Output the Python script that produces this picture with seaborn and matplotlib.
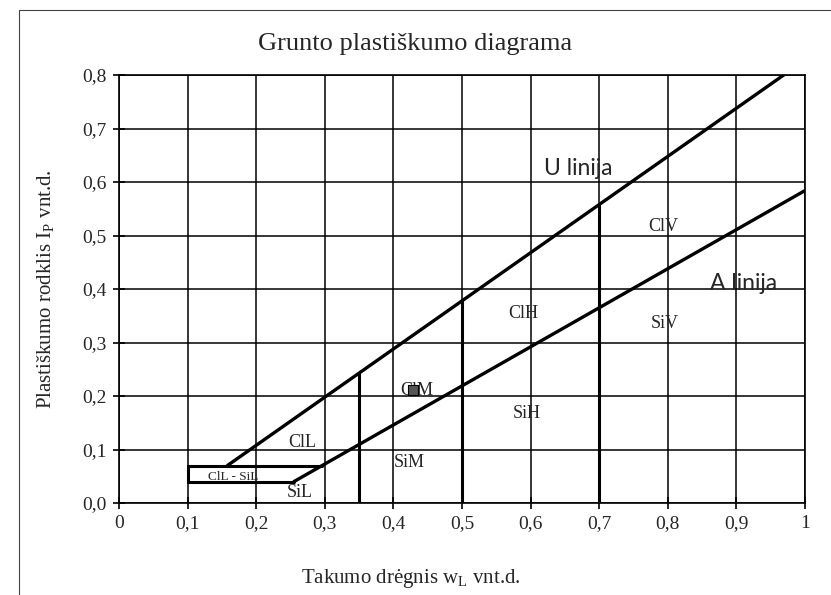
import matplotlib
matplotlib.use("Agg")
import matplotlib.pyplot as plt
from matplotlib.patches import Rectangle
import numpy as np
import pandas as pd
import seaborn as sns

# Plasticity chart (Casagrande): liquid limit vs plasticity index
u_line_wl = [0.158, 0.969]
u_line_ip = [0.07, 0.80]
a_line_wl = [0.255, 1.00]
a_line_ip = [0.04, 0.584]

# zone boundaries: (wL start, wL end, Ip start, Ip end)
boundary_wl = [[0.10, 0.296], [0.10, 0.255], [0.10, 0.10],
               [0.35, 0.35], [0.50, 0.50], [0.70, 0.70]]
boundary_ip = [[0.07, 0.07], [0.04, 0.04], [0.04, 0.07],
               [0.00, 0.243], [0.00, 0.378], [0.00, 0.558]]

zone_names = ["ClL", "SiL", "SiM", "SiH", "SiV", "ClH", "ClM", "ClV"]
zone_wl = [0.267, 0.264, 0.423, 0.595, 0.795, 0.590, 0.434, 0.794]
zone_ip = [0.114, 0.019, 0.075, 0.168, 0.336, 0.355, 0.211, 0.516]

sample_wl = [0.428]
sample_ip = [0.211]

x_ticks = [0, 0.1, 0.2, 0.3, 0.4, 0.5, 0.6, 0.7, 0.8, 0.9, 1.0]
x_tick_labels = ["0", "0,1", "0,2", "0,3", "0,4", "0,5", "0,6", "0,7", "0,8", "0,9", "1"]
y_ticks = [0, 0.1, 0.2, 0.3, 0.4, 0.5, 0.6, 0.7, 0.8]
y_tick_labels = ["0,0", "0,1", "0,2", "0,3", "0,4", "0,5", "0,6", "0,7", "0,8"]

sns.set_theme(style="white")
plt.rcParams["font.family"] = ["Liberation Serif", "DejaVu Serif"]
plt.rcParams["mathtext.fontset"] = "custom"
plt.rcParams["mathtext.rm"] = "Liberation Serif"

fig = plt.figure(figsize=(8.31, 5.95), dpi=100)
ax = fig.add_axes([119 / 831, 1 - 503 / 595, 686 / 831, 428 / 595])

# outer frame of the figure
fig.patches.append(Rectangle((19 / 831, -0.2), 1.2, 0.2 + 1 - 10 / 595,
                             transform=fig.transFigure, fill=False,
                             edgecolor="#444444", linewidth=0.8))

# zone boundaries
rows = []
for i, (ws, ips) in enumerate(zip(boundary_wl, boundary_ip)):
    for w, p in zip(ws, ips):
        rows.append({"seg": i, "wl": w, "ip": p})
bdf = pd.DataFrame(rows)
sns.lineplot(data=bdf, x="wl", y="ip", units="seg", estimator=None, sort=False,
             color="black", linewidth=2.2, ax=ax, zorder=4)

# U and A lines
sns.lineplot(x=u_line_wl, y=u_line_ip, sort=False, color="black",
             linewidth=2.4, ax=ax, zorder=4)
sns.lineplot(x=a_line_wl, y=a_line_ip, sort=False, color="black",
             linewidth=2.4, ax=ax, zorder=4)

# tested sample
sns.scatterplot(x=sample_wl, y=sample_ip, marker="s", s=45, color="#555555",
                edgecolor="black", linewidth=0.8, ax=ax, zorder=6)

ax.set_xlim(0, 1)
ax.set_ylim(0, 0.8)
ax.set_xticks(x_ticks)
ax.set_xticklabels(x_tick_labels, fontsize=14)
ax.set_yticks(y_ticks)
ax.set_yticklabels(y_tick_labels, fontsize=14)
ax.grid(True, color="black", linewidth=1.1)
ax.set_axisbelow(True)
for s in ax.spines.values():
    s.set_color("black")
    s.set_linewidth(1.2)
ax.tick_params(direction="inout", length=8, width=1.2, color="black",
               pad=5, bottom=True, left=True)

# zone labels
for name, w, p in zip(zone_names, zone_wl, zone_ip):
    ax.text(w, p, name, fontsize=13, ha="center", va="center", zorder=5)
ax.text(0.166, 0.049, "ClL - SiL", fontsize=9.5, ha="center", va="center", zorder=3)

ax.text(0.67, 0.626, "U linija", fontsize=16.5, family=["Lato", "DejaVu Sans"],
        ha="center", va="center", zorder=5)
ax.text(0.91, 0.411, "A linija", fontsize=16.5, family=["Lato", "DejaVu Sans"],
        ha="center", va="center", zorder=5)

fig.text(415 / 831, 1 - 44 / 595, "Grunto plastiškumo diagrama", fontsize=19,
         ha="center", va="center")
ax.set_xlabel("")
fig.text(411 / 831, 1 - 578 / 595, r"Takumo drėgnis w$_\mathregular{L}$ vnt.d.",
         fontsize=15, ha="center", va="center")
ax.set_ylabel(r"Plastiškumo rodklis I$_\mathregular{P}$ vnt.d.", fontsize=15, labelpad=18)

fig.savefig("out.png", dpi=100)
